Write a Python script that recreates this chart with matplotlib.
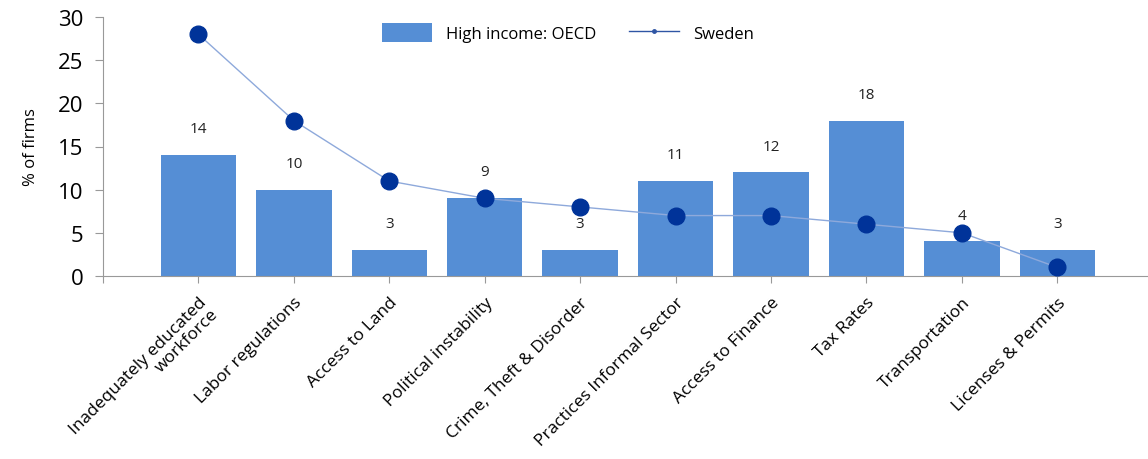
import matplotlib.pyplot as plt
import numpy as np

categories = ["Inadequately educated\nworkforce", "Labor regulations", "Access to Land",
              "Political instability", "Crime, Theft & Disorder", "Practices Informal Sector",
              "Access to Finance", "Tax Rates", "Transportation", "Licenses & Permits"]
oecd = [14, 10, 3, 9, 3, 11, 12, 18, 4, 3]
sweden = [28, 18, 11, 9, 8, 7, 7, 6, 5, 1]

plt.rcParams['font.family'] = ['Open Sans', 'DejaVu Sans']

fig = plt.figure(figsize=(11.48, 4.6), dpi=100)
ax = fig.add_axes([103 / 1148, (460 - 277) / 460, 1 - 103 / 1148, (277 - 18) / 460])

x = np.arange(len(categories))
bars = ax.bar(x, oecd, width=0.79, color='#558ed5', zorder=2)
for xi, v in zip(x, oecd):
    ax.annotate(str(v), (xi, v), xytext=(0, 19), textcoords='offset points',
                ha='center', va='center', fontsize=11, color='#222222')

ax.plot(x, sweden, color='#8ea9db', lw=1, marker='o', markersize=12,
        markerfacecolor='#003399', markeredgecolor='#003399', zorder=3)
# legend handle with a small marker
line_handle, = ax.plot([], [], color='#2f55a4', lw=1, marker='o', markersize=2.5)

ax.set_xlim(-1, 9.95)
ax.set_ylim(0, 30)
ax.set_yticks(range(0, 31, 5))
ax.set_xticks(np.concatenate([[-1], x]))
ax.set_xticklabels([''] + categories, rotation=45, ha='right', rotation_mode='anchor',
                   fontsize=12.5, linespacing=1.0)
ax.tick_params(axis='y', labelsize=16, length=6, color='#999999', pad=8)
ax.tick_params(axis='x', length=5, color='#999999', pad=8)
ax.set_ylabel('% of firms', fontsize=12, labelpad=14)

for s in ['top', 'right']:
    ax.spines[s].set_visible(False)
for s in ['left', 'bottom']:
    ax.spines[s].set_color('#999999')

ax.legend([bars, line_handle], ['High income: OECD', 'Sweden'], loc='upper center',
          bbox_to_anchor=(0.445, 1.035), ncol=2, frameon=False,
          fontsize=12, handlelength=3.0, handleheight=1.4, columnspacing=2.0)

fig.savefig('out.png', dpi=100)
